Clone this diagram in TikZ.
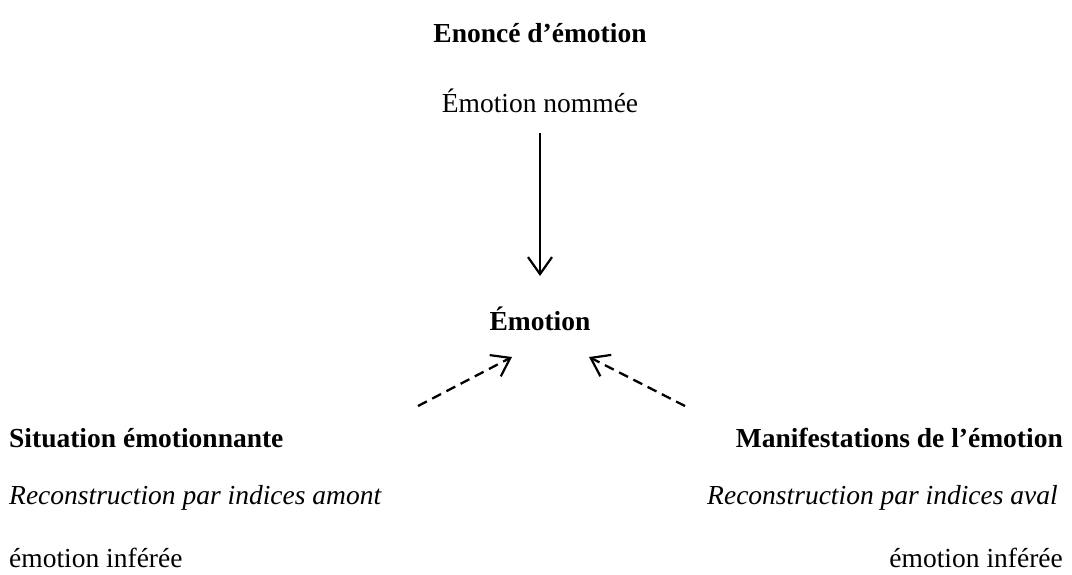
\documentclass[tikz,border=0pt]{standalone}
\usepackage{fontspec}
\setmainfont{Liberation Serif}
\usetikzlibrary{arrows.meta}
\begin{document}
\begin{tikzpicture}[x=1pt,y=-1pt,
  lbl/.style={inner sep=0pt,font=\fontsize{27.5}{32}\selectfont},
  arr/.style={line width=2pt,-{Straight Barb[length=17pt,width=24pt,line width=2.2pt]}},
  darr/.style={arr,line width=2.3pt,dash pattern=on 10pt off 6pt}]
\useasboundingbox (0,0) rectangle (1072,574);
\node[lbl,font=\fontsize{27.5}{32}\selectfont\bfseries] (enonce) at (540,33) {Enoncé d’émotion};
\node[lbl] (nommee) at (540,101) {Émotion nommée};
\node[lbl,font=\fontsize{27.5}{32}\selectfont\bfseries] (emotion) at (540,319) {Émotion};
\coordinate (vtop) at (540,133);
\coordinate (vbot) at (540,276);
\draw[arr] (vtop) -- (vbot);
\node[lbl,font=\fontsize{27.5}{32}\selectfont\bfseries,anchor=west] (situation) at (9,438) {Situation émotionnante};
\node[lbl,font=\fontsize{27.5}{32}\selectfont\bfseries,anchor=east] (manif) at (1063,438) {Manifestations de l’émotion};
\node[lbl,font=\fontsize{27.5}{32}\selectfont\itshape,anchor=west] (amont) at (9,498) {Reconstruction par indices amont};
\node[lbl,font=\fontsize{27.5}{32}\selectfont\itshape,anchor=east] (aval) at (1058,498) {Reconstruction par indices aval};
\node[lbl,anchor=west] (infA) at (9,558) {émotion inférée};
\node[lbl,anchor=east] (infB) at (1063,558) {émotion inférée};
\coordinate (lstart) at (418,406);
\coordinate (lend) at (512,357);
\coordinate (rstart) at (685,406);
\coordinate (rend) at (589,357);
\draw[darr] (lstart) -- (lend);
\draw[darr] (rstart) -- (rend);
\end{tikzpicture}
\end{document}
